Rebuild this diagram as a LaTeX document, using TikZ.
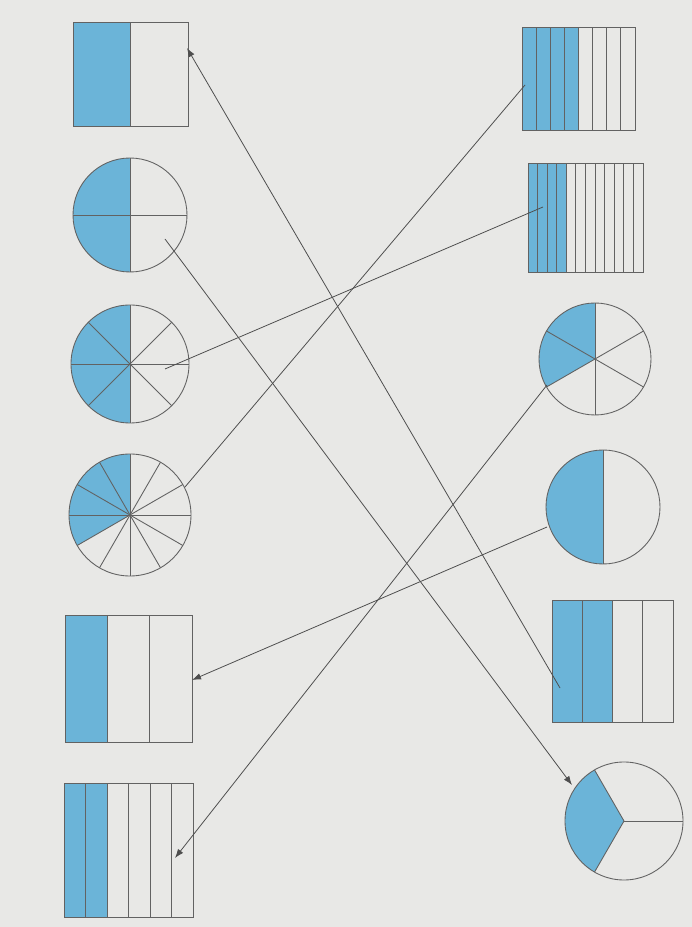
\documentclass[tikz,border=0pt]{standalone}
\usepackage{xcolor}
\usetikzlibrary{arrows.meta,calc}
\definecolor{paper}{HTML}{E8E8E6}
\definecolor{sky}{HTML}{6BB4D8}
\definecolor{ink}{HTML}{626262}
\begin{document}
\begin{tikzpicture}[
  x=0.02cm,y=0.02cm,
  outline/.style={draw=ink,line width=0.5pt},
  part/.style={fill=sky},
  link/.style={line width=0.45pt,color=ink!80!black},
  tip/.style={-{Latex[length=1.8mm,width=1.3mm]}}
]
\fill[paper] (0,0) rectangle (692,927);
\useasboundingbox (0,0) rectangle (692,927);
\foreach \n/\xa/\ya/\xb/\yb/\k/\m in {la/73/801/188/905/2/1, le/65/185/192/312/3/1, lf/64/10/193/144/6/2,
    ra/522/797/635/900/8/4, rb/528/655/643/764/12/4, re/552/205/673/327/4/2}{
  \coordinate (\n) at ($(\xa,\ya)!0.5!(\xb,\yb)$);
  \fill[part] (\xa,\ya) rectangle ({\xa+(\xb-\xa)*\m/\k},\yb);
  \foreach \i in {1,...,\k} \draw[outline] ({\xa+(\xb-\xa)*\i/\k},\ya) -- ++(0,\yb-\ya);
  \draw[outline] (\xa,\ya) rectangle (\xb,\yb);
}
\foreach \n/\cx/\cy/\r/\k/\o/\a/\b in {lb/130/712/57/4/0/90/270, lc/130/563/59/8/0/90/270, ld/130/412/61/12/0/90/210,
    rc/595/568/56/6/30/90/210, rd/603/420/57/2/90/90/270, rf/624/106/59/3/0/120/240}{
  \coordinate (\n) at (\cx,\cy);
  \fill[part] (\n) -- ++(\a:\r) arc[start angle=\a,end angle=\b,radius=\r] -- cycle;
  \foreach \i in {1,...,\k} \draw[outline] (\n) -- ++({\o+\i*360/\k}:\r);
  \draw[outline] (\n) circle[radius=\r];
}
\coordinate (la-e) at (187,879);
\coordinate (lb-e) at (165,688);
\coordinate (lc-e) at (165,558);
\coordinate (ld-e) at (185,440);
\coordinate (le-e) at (192,247);
\coordinate (lf-e) at (175,69);
\coordinate (ra-e) at (525,842);
\coordinate (rb-e) at (543,720);
\coordinate (rc-e) at (547,542);
\coordinate (rd-e) at (547,400);
\coordinate (re-e) at (560,239);
\coordinate (rf-e) at (572,142);
\draw[link,tip] (re-e) -- (la-e);
\draw[link,tip] (lb-e) -- (rf-e);
\draw[link] (rb-e) -- (lc-e);
\draw[link] (ra-e) -- (ld-e);
\draw[link,tip] (rd-e) -- (le-e);
\draw[link,tip] (rc-e) -- (lf-e);
\end{tikzpicture}
\end{document}
